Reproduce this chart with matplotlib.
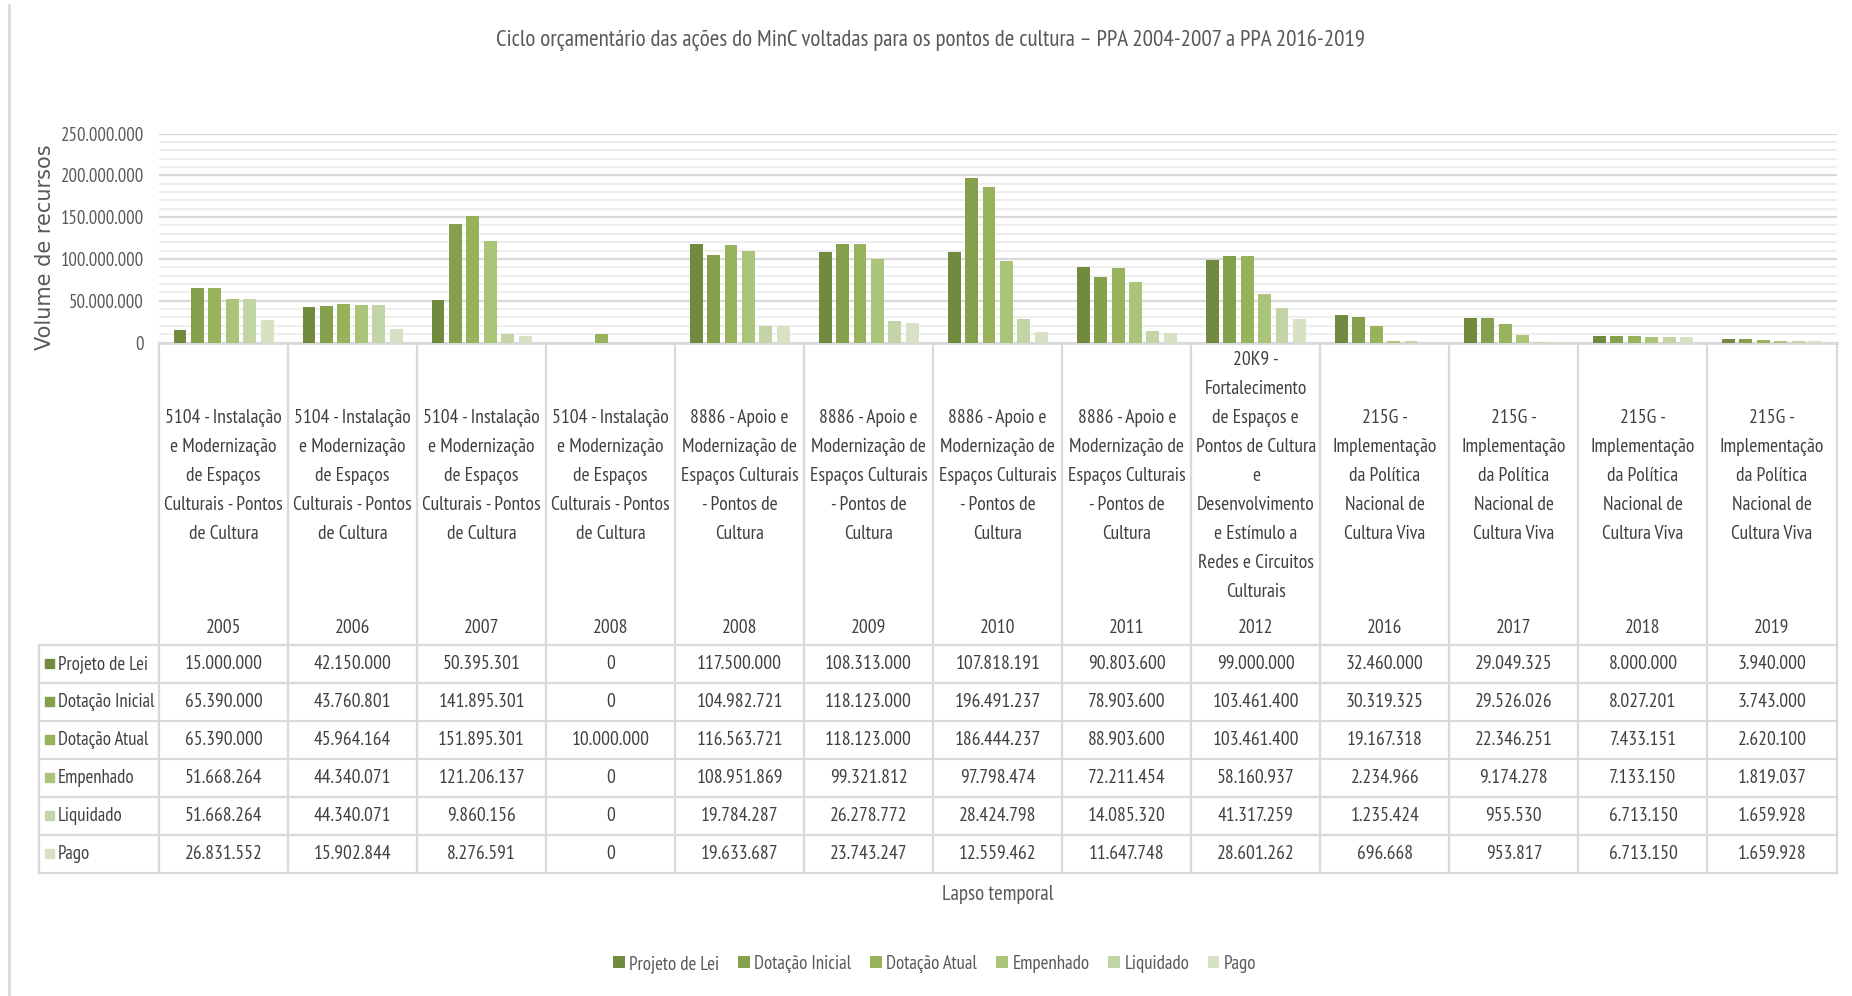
import numpy as np
import matplotlib
matplotlib.use("Agg")
import matplotlib.pyplot as plt
from matplotlib.patches import Patch, Rectangle

plt.rcParams['font.family'] = ['PT Sans Narrow', 'Open Sans Condensed', 'DejaVu Sans']

acao_5104 = "5104 - Instalação\ne Modernização\nde Espaços\nCulturais - Pontos\nde Cultura"
acao_8886 = "8886 - Apoio e\nModernização de\nEspaços Culturais\n- Pontos de\nCultura"
acao_20k9 = ("20K9 -\nFortalecimento\nde Espaços e\nPontos de Cultura\ne\nDesenvolvimento\n"
             "e Estímulo a\nRedes e Circuitos\nCulturais")
acao_215g = "215G -\nImplementação\nda Política\nNacional de\nCultura Viva"

acoes = [acao_5104] * 4 + [acao_8886] * 4 + [acao_20k9] + [acao_215g] * 4
anos = ["2005", "2006", "2007", "2008", "2008", "2009", "2010", "2011", "2012",
        "2016", "2017", "2018", "2019"]

projeto_lei = [15000000, 42150000, 50395301, 0, 117500000, 108313000, 107818191,
               90803600, 99000000, 32460000, 29049325, 8000000, 3940000]
dotacao_inicial = [65390000, 43760801, 141895301, 0, 104982721, 118123000, 196491237,
                   78903600, 103461400, 30319325, 29526026, 8027201, 3743000]
dotacao_atual = [65390000, 45964164, 151895301, 10000000, 116563721, 118123000, 186444237,
                 88903600, 103461400, 19167318, 22346251, 7433151, 2620100]
empenhado = [51668264, 44340071, 121206137, 0, 108951869, 99321812, 97798474,
             72211454, 58160937, 2234966, 9174278, 7133150, 1819037]
liquidado = [51668264, 44340071, 9860156, 0, 19784287, 26278772, 28424798,
             14085320, 41317259, 1235424, 955530, 6713150, 1659928]
pago = [26831552, 15902844, 8276591, 0, 19633687, 23743247, 12559462,
        11647748, 28601262, 696668, 953817, 6713150, 1659928]

series_nomes = ["Projeto de Lei", "Dotação Inicial", "Dotação Atual",
                "Empenhado", "Liquidado", "Pago"]
series = [projeto_lei, dotacao_inicial, dotacao_atual, empenhado, liquidado, pago]
cores = ["#718a3f", "#84a04d", "#97b25a", "#aac57a", "#c3d4a6", "#d7e2c4"]

W, H = 1852, 996
GRID = "#d9d9d9"
TXT = "#404040"
GRAY = "#595959"
FS = 14


def fmt(v):
    return f"{v:,}".replace(",", ".")


fig = plt.figure(figsize=(W / 100, H / 100), dpi=100)

# pixel canvas for the data table, borders and labels
cv = fig.add_axes([0, 0, 1, 1], zorder=0)
cv.set_xlim(0, W)
cv.set_ylim(H, 0)
cv.axis("off")

x0, x1 = 159, 1836.5
y_top, y_bot = 133.5, 342.5
ncol = len(anos)
colw = (x1 - x0) / ncol

ax = fig.add_axes([x0 / W, 1 - y_bot / H, (x1 - x0) / W, (y_bot - y_top) / H], zorder=2)
ax.patch.set_alpha(0)

slot = 0.135
x = np.arange(ncol)
for k, (vals, cor) in enumerate(zip(series, cores)):
    ax.bar(x + (k - 2.5) * slot, vals, width=slot * 0.74, color=cor, zorder=3)

ax.set_xlim(-0.5, ncol - 0.5)
ax.set_ylim(0, 250e6)
ax.set_yticks(np.arange(0, 250e6 + 1, 50e6))
ax.set_yticks(np.arange(0, 250e6 + 1, 10e6), minor=True)
ax.set_yticklabels([fmt(int(v)) for v in np.arange(0, 250e6 + 1, 50e6)])
ax.grid(axis="y", which="minor", color="#eeeeee", lw=1.5, zorder=0)
ax.grid(axis="y", which="major", color=GRID, lw=1.6, zorder=1)
ax.tick_params(axis="y", which="both", length=0, labelsize=13.6, labelcolor=GRAY, pad=10.8)
ax.set_xticks([])
for s in ax.spines.values():
    s.set_visible(False)

# table grid
row_top, row_bot = 645, 872.5
nrow = len(series)
rowh = (row_bot - row_top) / nrow
lw = 1.6
cv.plot([x0, x1], [y_bot, y_bot], color=GRID, lw=2)
for i in range(ncol + 1):
    cv.plot([x0 + i * colw] * 2, [y_bot, row_bot], color=GRID, lw=lw)
for j in range(nrow + 1):
    cv.plot([39, x1], [row_top + j * rowh] * 2, color=GRID, lw=lw)
cv.plot([39, 39], [row_top, row_bot], color=GRID, lw=lw)

# category headers
for i in range(ncol):
    cx = x0 + (i + 0.5) * colw
    cv.text(cx, 476, acoes[i], ha="center", va="center", fontsize=FS,
            color=TXT, linespacing=1.78)
    cv.text(cx, 628, anos[i], ha="center", va="center", fontsize=FS, color=TXT)

# value rows
for j, (nome, vals, cor) in enumerate(zip(series_nomes, series, cores)):
    cy = row_top + (j + 0.5) * rowh
    cv.add_patch(Rectangle((45, cy - 4.5), 8.5, 9, color=cor))
    cv.text(58, cy, nome, ha="left", va="center", fontsize=13.5, color=TXT)
    for i, v in enumerate(vals):
        cv.text(x0 + (i + 0.5) * colw, cy, fmt(v), ha="center", va="center",
                fontsize=FS, color=TXT)

# chart border on the left
cv.plot([9, 9], [5, H], color=GRID, lw=2)

cv.text(931, 40, "Ciclo orçamentário das ações do MinC voltadas para os pontos de cultura – "
        "PPA 2004-2007 a PPA 2016-2019", ha="center", va="center", fontsize=16.6, color=GRAY)
cv.text(45, 247, "Volume de recursos", rotation=90, ha="center", va="center",
        fontsize=15, color=GRAY, family="DejaVu Sans")
cv.text((x0 + x1) / 2, 894, "Lapso temporal", ha="center", va="center",
        fontsize=15, color=GRAY)

handles = [Patch(facecolor=c, label=n) for n, c in zip(series_nomes, cores)]
fig.legend(handles=handles, loc="center", bbox_to_anchor=(935 / W, 1 - 964 / H),
           ncol=6, frameon=False, fontsize=13.6, labelcolor=GRAY,
           handlelength=0.6, handleheight=0.6, handletextpad=0.25, columnspacing=1.0)

fig.savefig("out.png", dpi=100, facecolor="white")
